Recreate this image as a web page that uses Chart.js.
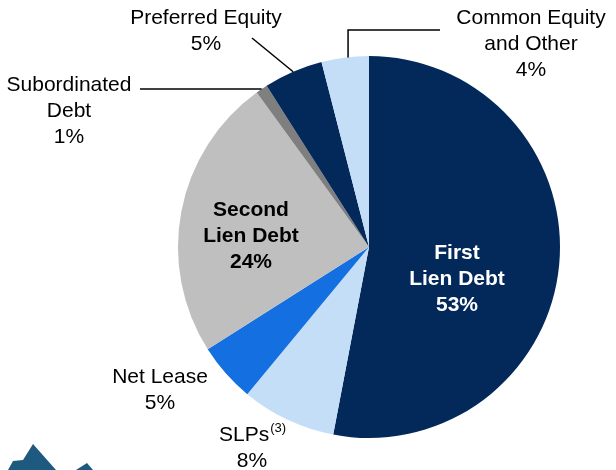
<!DOCTYPE html>
<html>
<head>
<meta charset="utf-8">
<script src="https://cdn.jsdelivr.net/npm/chart.js@4/dist/chart.umd.min.js"></script>
<style>
  html, body { margin: 0; padding: 0; background: #fff; }
  canvas { display: block; }
</style>
</head>
<body>
<canvas id="grafico" width="616" height="470"></canvas>
<script>
// Dados do gráfico (sentido horário a partir do topo)
const categorias = ['First Lien Debt', 'SLPs', 'Net Lease', 'Second Lien Debt', 'Subordinated Debt', 'Preferred Equity', 'Common Equity and Other'];
const valores = [53, 8, 5, 24, 1, 5, 4];
const cores = ['#03295A', '#C5DEF8', '#146FE1', '#BFBFBF', '#7F7F7F', '#03295A', '#C5DEF8'];

// Rótulos: linhas de texto, posição e estilo
const rotulos = [
    { linhas: ['First', 'Lien Debt', '53%'], x: 457, y: 253, bold: true, cor: '#fff' },
    { linhas: ['SLPs', '8%'], x: 252, y: 435, sup: '(3)' },
    { linhas: ['Net Lease', '5%'], x: 160, y: 377 },
    { linhas: ['Second', 'Lien Debt', '24%'], x: 251, y: 210, bold: true, cor: '#000' },
    { linhas: ['Subordinated', 'Debt', '1%'], x: 69, y: 85 },
    { linhas: ['Preferred Equity', '5%'], x: 206, y: 18 },
    { linhas: ['Common Equity', 'and Other', '4%'], x: 531, y: 18 }
];

const fonte = "'Liberation Sans', Arial, sans-serif";
const tamanho = 21;

function pontoBorda(arc) {
    const meio = (arc.startAngle + arc.endAngle) / 2;
    return { x: arc.x + Math.cos(meio) * arc.outerRadius, y: arc.y + Math.sin(meio) * arc.outerRadius };
}

const pluginRotulos = {
    id: 'rotulos',
    beforeDraw(chart) {
        // Logotipo cortado no canto inferior esquerdo
        const ctx = chart.ctx;
        ctx.save();
        ctx.fillStyle = '#1E5A80';
        ctx.beginPath();
        ctx.moveTo(8, 470); ctx.lineTo(13, 461); ctx.lineTo(23, 460); ctx.lineTo(33, 444); ctx.lineTo(56, 470);
        ctx.closePath(); ctx.fill();
        ctx.beginPath();
        ctx.moveTo(76, 470); ctx.lineTo(87, 463); ctx.lineTo(93, 470);
        ctx.closePath(); ctx.fill();
        ctx.restore();
    },
    afterDraw(chart) {
        const ctx = chart.ctx;
        const arcs = chart.getDatasetMeta(0).data;
        ctx.save();

        // Linhas de chamada
        ctx.strokeStyle = '#000';
        ctx.lineWidth = 1.5;
        let p = pontoBorda(arcs[4]);
        ctx.beginPath(); ctx.moveTo(140, p.y); ctx.lineTo(p.x, p.y); ctx.stroke();
        p = pontoBorda(arcs[5]);
        ctx.beginPath(); ctx.moveTo(252, 38); ctx.lineTo(p.x, p.y); ctx.stroke();
        p = pontoBorda(arcs[6]);
        ctx.beginPath(); ctx.moveTo(p.x + 3, p.y); ctx.lineTo(p.x + 3, 30); ctx.lineTo(440, 30); ctx.stroke();

        // Textos
        ctx.textAlign = 'center';
        ctx.textBaseline = 'middle';
        rotulos.forEach(r => {
            ctx.fillStyle = r.cor || '#000';
            ctx.font = (r.bold ? 'bold ' : '') + tamanho + 'px ' + fonte;
            r.linhas.forEach((linha, i) => {
                const y = r.y + i * 26;
                if (i === 0 && r.sup) {
                    const w = ctx.measureText(linha).width;
                    ctx.font = '13px ' + fonte;
                    const ws = ctx.measureText(r.sup).width;
                    const x0 = r.x - (w + ws) / 2;
                    ctx.textAlign = 'left';
                    ctx.fillText(r.sup, x0 + w + 1, y - 7);
                    ctx.font = tamanho + 'px ' + fonte;
                    ctx.fillText(linha, x0, y);
                    ctx.textAlign = 'center';
                } else {
                    ctx.fillText(linha, r.x, y);
                }
            });
        });
        ctx.restore();
    }
};

new Chart(document.getElementById('grafico').getContext('2d'), {
    type: 'pie',
    data: {
        labels: categorias,
        datasets: [{
            data: valores,
            backgroundColor: cores,
            borderWidth: 0
        }]
    },
    options: {
        responsive: false,
        animation: false,
        layout: { padding: { left: 178, right: 56, top: 56, bottom: 32 } },
        plugins: {
            legend: { display: false },
            tooltip: { enabled: false }
        }
    },
    plugins: [pluginRotulos]
});
</script>
</body>
</html>
